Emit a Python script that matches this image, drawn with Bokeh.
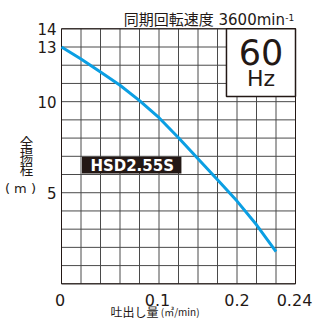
from bokeh.plotting import figure
from bokeh.models import Range1d, Label
from bokeh.embed import file_html
from bokeh.resources import INLINE

# ---- data ----
flow = [0.0, 0.02, 0.04, 0.06, 0.08, 0.10, 0.12, 0.14, 0.16, 0.18, 0.20, 0.22]
head = [13.0, 12.34, 11.63, 10.90, 10.06, 9.12, 8.02, 6.86, 5.71, 4.54, 3.24, 1.76]

x_tick_vals = [0.0, 0.1, 0.2, 0.24]
x_tick_text = ["0", "0.1", "0.2", "0.24"]
y_tick_vals = [5, 10, 13, 14]
y_tick_text = ["5", "10", "13", "14"]
x_grid = [0.0, 0.02, 0.04, 0.06, 0.08, 0.10, 0.12, 0.14, 0.16, 0.18, 0.20, 0.22, 0.24]
y_grid = [0, 1, 2, 3, 4, 5, 6, 7, 8, 9, 10, 11, 12, 13, 14]

title_main = "同期回転速度 3600min"
title_sup = "-1"
freq_text = "60"
unit_text = "Hz"
model_text = "HSD2.55S"
y_title_chars = ["全", "揚", "程"]
y_title_unit = "( m )"
x_title_main = "吐出し量"
x_title_unit = "(㎥/min)"

# ---- styles ----
INK = "#231815"
GRID = "#4a4a4a"
CURVE = "#0b9fe3"
NUM = "DejaVu Sans"
CJK = "Noto Sans CJK JP"
MIX = "DejaVu Sans, Noto Sans CJK JP"

X0, X1 = 0.0, 0.24
Y0, Y1 = 0, 14

# the frame covers the whole canvas; the chart box is drawn inside it
p = figure(width=316, height=320,
           x_range=Range1d(-0.062564, 0.261538), y_range=Range1d(-2.0149, 15.5537),
           output_backend="svg", toolbar_location=None,
           x_axis_location=None, y_axis_location=None,
           min_border=0)
p.xgrid.visible = False
p.ygrid.visible = False
p.background_fill_color = "white"
p.border_fill_color = "white"
p.outline_line_color = None

# grid
p.segment(x0=x_grid, y0=[Y0] * len(x_grid), x1=x_grid, y1=[Y1] * len(x_grid),
          line_color=GRID, line_width=1)
p.segment(x0=[X0] * len(y_grid), y0=y_grid, x1=[X1] * len(y_grid), y1=y_grid,
          line_color=GRID, line_width=1)
p.quad(left=[X0], right=[X1], bottom=[Y0], top=[Y1],
       fill_color=None, line_color=INK, line_width=1)

# performance curve
p.line(flow, head, line_color=CURVE, line_width=3)

# 60 Hz box
p.quad(left=[0.1692], right=[X1], bottom=[10.28], top=[Y1],
       fill_color="white", line_color=INK, line_width=1.5)
p.add_layout(Label(x=0.2046, y=12.70, text=freq_text, text_font=NUM,
                   text_font_size="35px", text_color=INK,
                   text_align="center", text_baseline="middle"))
p.add_layout(Label(x=0.2046, y=11.27, text=unit_text, text_font=NUM,
                   text_font_size="22px", text_color=INK,
                   text_align="center", text_baseline="middle"))

# model tag
p.quad(left=[0.021], right=[0.123], bottom=[6.056], top=[6.97],
       fill_color=INK, line_color=None)
p.add_layout(Label(x=0.0725, y=6.46, text=model_text, text_font=NUM,
                   text_font_style="bold", text_font_size="15px",
                   text_color="white", text_align="center",
                   text_baseline="middle"))

# title
p.add_layout(Label(x=0.2292, y=14.494, text=title_main, text_font=MIX,
                   text_font_size="15px", text_color=INK,
                   text_align="right", text_baseline="middle"))
p.add_layout(Label(x=0.2296, y=14.62, text=title_sup, text_font=NUM,
                   text_font_size="9px", text_color=INK,
                   text_align="left", text_baseline="middle"))

# tick labels
x_shift = [-1.5, -1.5, -19.5, -1.0]
for xv, xt, dx in zip(x_tick_vals, x_tick_text, x_shift):
    p.add_layout(Label(x=xv, y=-0.862, x_offset=dx, text=xt, text_font=NUM,
                       text_font_size="16px", text_color=INK,
                       text_align="center", text_baseline="middle"))
for yv, yt in zip(y_tick_vals, y_tick_text):
    p.add_layout(Label(x=X0, y=yv, x_offset=-5, text=yt, text_font=NUM,
                       text_font_size="15px", text_color=INK,
                       text_align="right", text_baseline="middle"))

# y axis title (vertical stack)
for ch, yv in zip(y_title_chars, [7.81, 7.07, 6.34]):
    p.add_layout(Label(x=-0.0359, y=yv, text=ch, text_font=CJK,
                       text_font_size="13.5px", text_color=INK,
                       text_align="center", text_baseline="middle"))
p.add_layout(Label(x=-0.0421, y=5.22, text=y_title_unit, text_font=NUM,
                   text_font_size="13px", text_color=INK,
                   text_align="center", text_baseline="middle"))

# x axis title
p.add_layout(Label(x=0.0503, y=-1.53, text=x_title_main,
                   text_font=CJK, text_font_size="12px", text_color=INK,
                   text_align="left", text_baseline="middle"))
p.add_layout(Label(x=0.1018, y=-1.53, text=x_title_unit,
                   text_font=CJK, text_font_size="10px", text_color=INK,
                   text_align="left", text_baseline="middle"))

open("out.html", "w").write(file_html(p, INLINE))
